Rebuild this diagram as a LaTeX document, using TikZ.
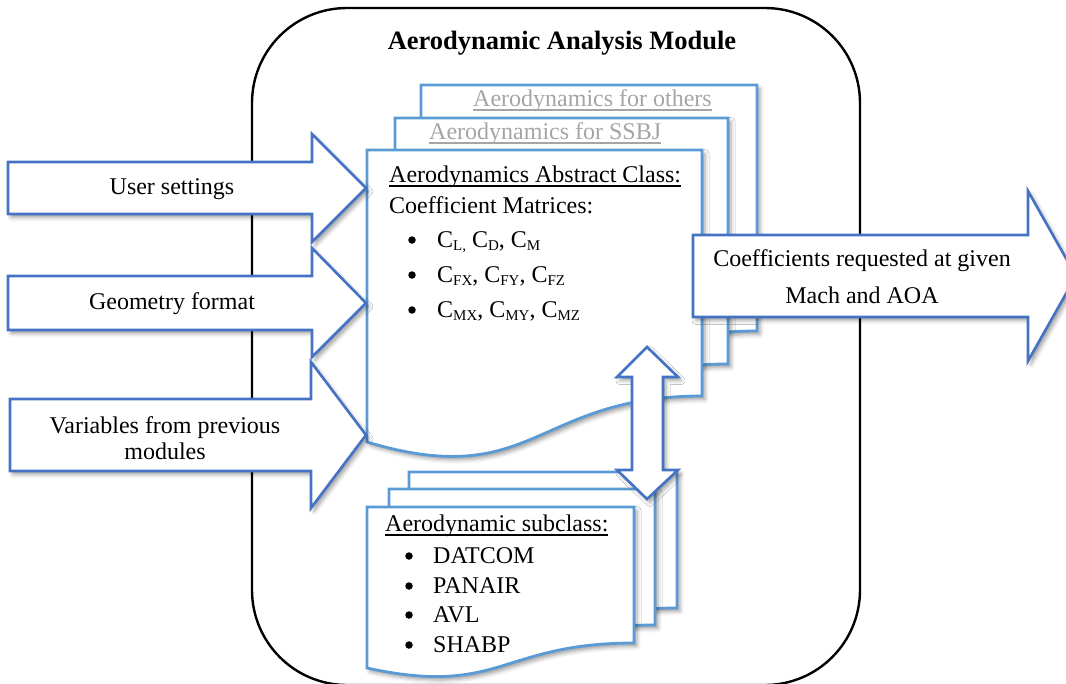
\documentclass[tikz,border=0pt]{standalone}
\usepackage{fontspec}
\setmainfont{Liberation Serif}
\usetikzlibrary{shadows.blur}

\definecolor{arrowblue}{HTML}{4472C4}
\definecolor{pageblue}{HTML}{5B9BD5}
\definecolor{fadedtext}{HTML}{A5A5A5}

% underline placed just under the baseline, crossing descenders
\newcommand\wordul[1]{\setbox0=\hbox{#1}\rlap{\rule[-4.5pt]{\wd0}{1.2pt}}\box0}
% lowered small index for the coefficient names
\newcommand\sbs[1]{\raisebox{-3.5pt}{\fontsize{15}{15}\selectfont #1}}

\tikzset{
  softshadow/.style={blur shadow={shadow xshift=3pt, shadow yshift=-3.5pt,
      shadow blur radius=4pt, shadow opacity=38}},
  bigarrow/.style={draw=arrowblue, line width=2.6pt, fill=white,
      line join=miter, softshadow},
  docline/.style={draw=pageblue, line width=2.8pt, fill=white,
      line join=miter, softshadow},
  body/.style={font=\fontsize{24}{28}\selectfont, inner sep=0pt},
  bodyleft/.style={body, anchor=base west},
  bodymid/.style={body, anchor=base},
  dot/.style={circle, fill=black, inner sep=0pt, minimum size=7.5pt},
}

% one sheet of a document stack: x0, y0, width, right drop, left drop, wave depth
\newcommand\docpage[6]{%
  \filldraw[docline] (#1,#2) -- ({#1+#3},#2) -- ({#1+#3},{#2+#4})
    .. controls ({#1+#3/2},{#2+#4}) and ({#1+#3/2},{#2+#6}) .. (#1,{#2+#5}) -- cycle;}

\begin{document}
\begin{tikzpicture}[x=1pt, y=-1pt]
\useasboundingbox (0,0) rectangle (1066,683);

% module frame
\draw[line width=2.4pt, rounded corners=95pt] (252,8) rectangle (860,685);
\node[font=\fontsize{26.5}{30}\selectfont\bfseries, inner sep=0pt, anchor=base]
  (title) at (562,49) {Aerodynamic Analysis Module};

% stack of aerodynamics classes
\docpage{421}{85}{336}{246}{292}{342}
\node[bodyleft, text=fadedtext] (others) at (473,106) {\wordul{Aerodynamics for others}};
\docpage{395}{118}{333}{246}{292}{342}
\node[bodyleft, text=fadedtext] (ssbj) at (429,139) {\wordul{Aerodynamics for SSBJ}};
\docpage{367}{150}{335}{246}{292}{342}
\node[bodyleft] (abstract) at (389,182) {\wordul{Aerodynamics Abstract Class:}};
\node[bodyleft] (matrices) at (389,213) {Coefficient Matrices:};
\node[dot] (b1) at (412,240) {};
\node[bodyleft] (c1) at (437,247) {C\sbs{L,} C\sbs{D}, C\sbs{M}};
\node[dot] (b2) at (412,275) {};
\node[bodyleft] (c2) at (437,282) {C\sbs{FX}, C\sbs{FY}, C\sbs{FZ}};
\node[dot] (b3) at (412,310) {};
\node[bodyleft] (c3) at (437,317) {C\sbs{MX}, C\sbs{MY}, C\sbs{MZ}};

% stack of subclasses
\docpage{409}{472}{268}{136}{161}{190}
\docpage{389}{489}{266}{136}{161}{190}
\docpage{367}{507}{267}{136}{161}{190}
\node[bodyleft] (subclass) at (385,531) {\wordul{Aerodynamic subclass:}};
\node[dot] (d1) at (409,556) {};
\node[bodyleft] (datcom) at (433,563) {DATCOM};
\node[dot] (d2) at (409,586) {};
\node[bodyleft] (panair) at (433,593) {PANAIR};
\node[dot] (d3) at (409,615) {};
\node[bodyleft] (avl) at (433,622) {AVL};
\node[dot] (d4) at (409,645) {};
\node[bodyleft] (shabp) at (433,652) {SHABP};

% exchange between abstract class and subclasses
\filldraw[bigarrow] (647,347) -- (678,377) -- (663,377) -- (663,470) -- (678,470)
  -- (647,499) -- (617,470) -- (632,470) -- (632,377) -- (617,377) -- cycle;

% inputs
\filldraw[bigarrow] (8,162) -- (312,162) -- (312,134) -- (366,188) -- (312,242)
  -- (312,214) -- (8,214) -- cycle;
\node[bodymid] (user) at (172,194) {User settings};

\filldraw[bigarrow] (8,276) -- (312,276) -- (312,248) -- (366,303) -- (312,357)
  -- (312,330) -- (8,330) -- cycle;
\node[bodymid] (geom) at (172,309) {Geometry format};

\filldraw[bigarrow] (10,399) -- (311,399) -- (311,362) -- (366,435) -- (311,508)
  -- (311,471) -- (10,471) -- cycle;
\node[bodymid] (vars1) at (165,433) {Variables from previous};
\node[bodymid] (vars2) at (165,459) {modules};

% output
\filldraw[bigarrow] (693,235) -- (1028,235) -- (1028,191) -- (1076,276) -- (1028,361)
  -- (1028,317) -- (693,317) -- cycle;
\node[bodymid] (out1) at (862,266) {Coefficients requested at given};
\node[bodymid] (out2) at (862,303) {Mach and AOA};
\end{tikzpicture}
\end{document}
